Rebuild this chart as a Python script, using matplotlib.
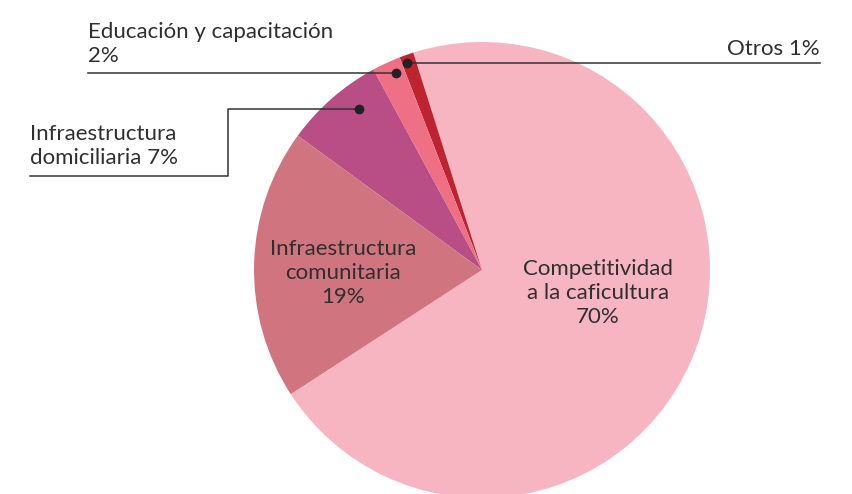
import matplotlib.pyplot as plt

# shares of investment by line (percent)
labels = ["Competitividad\na la caficultura", "Otros", "Educación y capacitación",
          "Infraestructura\ndomiciliaria", "Infraestructura\ncomunitaria"]
values = [70, 1, 2, 7, 19]
colors = ["#F7B5C1", "#BE2330", "#EF6F85", "#B94E86", "#D0747F"]

W, H = 853, 494
fig = plt.figure(figsize=(W / 100, H / 100), dpi=100)
ax = fig.add_axes([0, 0, 1, 1])

# work in pixel-like units, y going up
cx, cy, r = 482, H - 270, 228
wedges, _ = ax.pie(values, colors=colors, startangle=-147, counterclock=True,
                   center=(cx, cy), radius=r, wedgeprops=dict(linewidth=0))
ax.set_xlim(0, W)
ax.set_ylim(0, H)
ax.set_aspect("equal")
ax.axis("off")

font = dict(family=["Lato", "DejaVu Sans"], color="#2f2f2f", fontsize=16)
lc = "#333333"

def y(v):
    return H - v

# inner labels
ax.text(598, y(293), f"{labels[0]}\n{values[0]}%", ha="center", va="center",
        linespacing=1.22, **font)
ax.text(343, y(273), f"{labels[4]}\n{values[4]}%", ha="center", va="center",
        linespacing=1.22, **font)

# Otros
ax.plot([407, 820], [y(63), y(63)], color=lc, lw=1.1)
ax.plot(407, y(63), "o", color="#222222", ms=6)
ax.text(820, y(55), f"{labels[1]} {values[1]}%", ha="right", va="baseline", **font)

# Educación y capacitación
ax.plot([88, 396], [y(73), y(73)], color=lc, lw=1.1)
ax.plot(396, y(73), "o", color="#222222", ms=6)
ax.text(88, y(62), f"{labels[2]}\n{values[2]}%", ha="left", va="baseline",
        linespacing=1.22, **font)

# Infraestructura domiciliaria
ax.plot([30, 228, 228, 359], [y(176), y(176), y(109), y(109)], color=lc, lw=1.1)
ax.plot(359, y(109), "o", color="#222222", ms=6)
ax.text(30, y(164), "Infraestructura\ndomiciliaria " + f"{values[3]}%",
        ha="left", va="baseline", linespacing=1.22, **font)

fig.savefig("out.png", dpi=100, facecolor="white")
